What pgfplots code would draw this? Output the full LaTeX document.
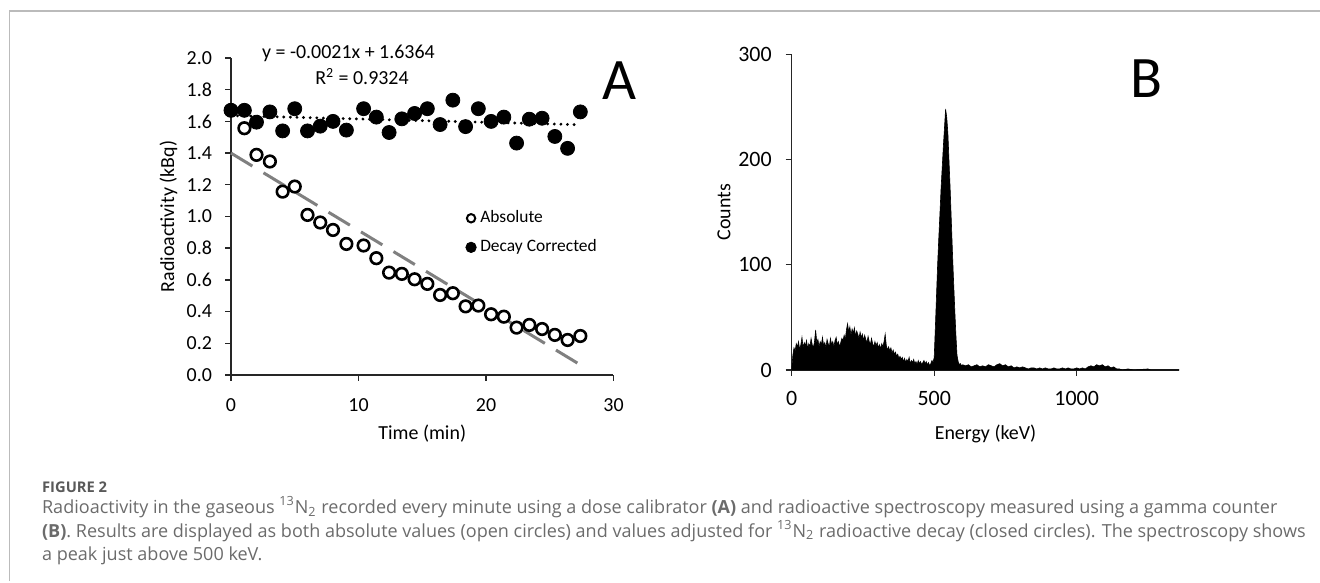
\documentclass[border=0pt]{standalone}
\usepackage{fontspec}
\setmainfont{Carlito}
\newfontfamily\capfont{Open Sans}
\usepackage{pgfplots}
\pgfplotsset{compat=1.18}
\definecolor{trendgray}{HTML}{808080}
\definecolor{framegray}{HTML}{BBBBBB}
\definecolor{capgray}{HTML}{6B6B6B}
\definecolor{axisblack}{HTML}{262626}

\pgfplotsset{excelax/.style={
  scale only axis, anchor=south west,
  axis x line=bottom, axis y line=left,
  axis line style={-, draw=axisblack, line width=0.7bp},
  tick style={draw=axisblack, line width=0.7bp},
  tick align=outside, major tick length=3bp,
  /pgf/number format/assume math mode=true,
  /pgf/number format/1000 sep={},
  clip=false,
}}

\begin{document}
\begin{tikzpicture}
\path[use as bounding box] (0,0) rectangle (660bp,291.5bp);
% page frame
\draw[framegray, line width=0.8bp] (4.65bp,1bp) -- (4.65bp,286bp) -- (660bp,286bp);

% ---------- panel A ----------
\begin{axis}[excelax,
  at={(115.5bp,104bp)}, width=191.25bp, height=158.5bp,
  xmin=0, xmax=30, ymin=0, ymax=2,
  xtick={0,10,20,30},
  ytick={0,0.2,0.4,0.6,0.8,1.0,1.2,1.4,1.6,1.8,2.0},
  yticklabel style={/pgf/number format/fixed, /pgf/number format/fixed zerofill,
    /pgf/number format/precision=1, xshift=-3bp},
  tick label style={font=\fontsize{10}{12}\selectfont},
  xticklabel style={yshift=-5.5bp},
  xlabel={Time (min)}, ylabel={Radioactivity (kBq)},
  label style={font=\fontsize{11.2}{13}\selectfont},
  every axis x label/.style={at={(axis description cs:0.5,-0.186)}, anchor=center},
  every axis y label/.style={at={(axis description cs:-0.1634,0.5)}, rotate=90, anchor=center},
  legend style={at={(axis description cs:0.613,0.4485)}, anchor=west, draw=none, fill=none,
    inner sep=0pt, row sep=5bp, font=\fontsize{8.75}{10}\selectfont,
    nodes={inner sep=1bp}, /tikz/every odd column/.style={column sep=1bp}},
  legend cell align=left,
  legend image code/.code={\draw[#1] plot coordinates {(0bp,0bp)};},
]
% linear trend of the absolute values
\addplot[forget plot, trendgray, line width=1.5bp, dash pattern=on 12.5bp off 6.5bp]
  coordinates {(0,1.40) (27.4,0.064)};
% trend of the decay corrected values, y = -0.0021x + 1.6364
\addplot[forget plot, black, line width=1.6bp, line cap=round, dash pattern=on 0bp off 3.3bp]
  coordinates {(0,1.6364) (27.4,1.5789)};
\addplot[forget plot, only marks, mark=*, mark size=2.9bp, black,
  mark options={fill=white, line width=1.3bp}]
  table[row sep=\\] {
x y \\
0 1.670 \\ 1.05 1.557 \\ 2.0 1.389 \\ 3.05 1.347 \\ 4.05 1.157 \\ 5.0 1.189 \\
6.0 1.010 \\ 7.0 0.962 \\ 8.0 0.915 \\ 9.05 0.827 \\ 10.4 0.817 \\ 11.4 0.737 \\
12.4 0.646 \\ 13.4 0.638 \\ 14.4 0.604 \\ 15.4 0.575 \\ 16.4 0.505 \\ 17.4 0.516 \\
18.4 0.433 \\ 19.4 0.438 \\ 20.4 0.383 \\ 21.4 0.368 \\ 22.4 0.299 \\ 23.4 0.316 \\
24.4 0.290 \\ 25.4 0.253 \\ 26.4 0.221 \\ 27.4 0.246 \\
};
\addplot[forget plot, only marks, mark=*, mark size=3.5bp, black]
  table[row sep=\\] {
x y \\
0 1.670 \\ 1.05 1.670 \\ 2.0 1.595 \\ 3.05 1.660 \\ 4.05 1.540 \\ 5.0 1.680 \\
6.0 1.540 \\ 7.0 1.570 \\ 8.0 1.600 \\ 9.05 1.545 \\ 10.4 1.680 \\ 11.4 1.627 \\
12.4 1.530 \\ 13.4 1.616 \\ 14.4 1.650 \\ 15.4 1.680 \\ 16.4 1.580 \\ 17.4 1.734 \\
18.4 1.567 \\ 19.4 1.680 \\ 20.4 1.600 \\ 21.4 1.627 \\ 22.4 1.463 \\ 23.4 1.614 \\
24.4 1.620 \\ 25.4 1.505 \\ 26.4 1.430 \\ 27.4 1.660 \\
};
\addlegendimage{only marks, mark=*, mark size=2.1bp, black, mark options={fill=white, line width=1bp}}
\addlegendentry{Absolute}
\addlegendimage{only marks, mark=*, mark size=2.6bp, black}
\addlegendentry{Decay Corrected}
\end{axis}

% ---------- panel B ----------
\begin{axis}[excelax,
  at={(395.85bp,106.5bp)}, width=193.8bp, height=157.85bp,
  xmin=0, xmax=1360, ymin=0, ymax=300,
  xtick={0,500,1000}, ytick={0,100,200,300},
  tick label style={font=\fontsize{11}{13}\selectfont},
  yticklabel style={xshift=-3.5bp},
  xticklabel style={yshift=-4bp},
  xlabel={Energy (keV)}, ylabel={Counts},
  label style={font=\fontsize{11.2}{13}\selectfont},
  every axis x label/.style={at={(axis description cs:0.5,-0.2027)}, anchor=center},
  every axis y label/.style={at={(axis description cs:-0.1746,0.5)}, rotate=90, anchor=center},
]
\addplot[fill=black, draw=black, line width=0.3bp] table[row sep=\\] {
x y \\
0 0 \\ 4 14 \\ 8 21 \\ 12 18 \\ 16 25 \\ 20 22 \\ 24 27 \\ 28 19 \\ 32 24 \\ 36 31 \\
40 21 \\ 44 26 \\ 48 23 \\ 52 28 \\ 56 20 \\ 60 25 \\ 64 22 \\ 68 30 \\ 72 24 \\ 76 21 \\
80 27 \\ 84 38 \\ 88 26 \\ 92 29 \\ 96 22 \\ 100 27 \\ 104 24 \\ 108 31 \\ 112 23 \\ 116 26 \\
120 21 \\ 124 29 \\ 128 25 \\ 132 22 \\ 136 30 \\ 140 24 \\ 144 27 \\ 148 22 \\ 152 28 \\ 156 31 \\
160 24 \\ 164 27 \\ 168 22 \\ 172 26 \\ 176 30 \\ 180 28 \\ 184 33 \\ 188 29 \\ 192 38 \\ 196 44 \\
200 36 \\ 204 41 \\ 208 33 \\ 212 39 \\ 216 35 \\ 220 40 \\ 224 32 \\ 228 37 \\ 232 34 \\ 236 30 \\
240 36 \\ 244 31 \\ 248 34 \\ 252 28 \\ 256 33 \\ 260 29 \\ 264 26 \\ 268 32 \\ 272 27 \\ 276 24 \\
280 30 \\ 284 25 \\ 288 22 \\ 292 27 \\ 296 23 \\ 300 26 \\ 304 21 \\ 308 24 \\ 312 20 \\ 316 25 \\
320 22 \\ 324 27 \\ 328 34 \\ 332 23 \\ 336 19 \\ 340 22 \\ 344 18 \\ 348 21 \\ 352 16 \\ 356 19 \\
360 15 \\ 364 17 \\ 368 13 \\ 372 15 \\ 376 11 \\ 380 13 \\ 384 10 \\ 388 12 \\ 392 8 \\ 396 11 \\
400 7 \\ 404 10 \\ 408 8 \\ 412 12 \\ 416 6 \\ 420 9 \\ 424 7 \\ 428 10 \\ 432 6 \\ 436 8 \\
440 5 \\ 444 9 \\ 448 6 \\ 452 8 \\ 456 5 \\ 460 7 \\ 464 9 \\ 468 6 \\ 472 8 \\ 476 5 \\
480 7 \\ 484 4 \\ 488 6 \\ 492 9 \\ 496 7 \\ 500 12 \\ 504 40 \\ 508 70 \\ 512 100 \\ 516 125 \\
520 148 \\ 524 172 \\ 528 192 \\ 532 212 \\ 536 230 \\ 540 248 \\ 544 240 \\ 548 225 \\ 552 198 \\ 556 172 \\
560 142 \\ 564 112 \\ 568 84 \\ 572 58 \\ 576 34 \\ 580 14 \\ 584 8 \\ 588 5 \\ 592 6 \\ 596 4 \\
600 5 \\ 610 4 \\ 620 5 \\ 630 3 \\ 640 4 \\ 650 5 \\ 660 3 \\ 670 4 \\ 680 3 \\ 690 5 \\
700 4 \\ 710 3 \\ 720 5 \\ 730 6 \\ 740 4 \\ 750 5 \\ 760 3 \\ 770 4 \\ 780 2 \\ 790 3 \\
800 2 \\ 810 3 \\ 820 2 \\ 830 1 \\ 840 2 \\ 850 2 \\ 860 1 \\ 870 2 \\ 880 1 \\ 890 2 \\
900 1 \\ 910 1 \\ 920 2 \\ 930 1 \\ 940 1 \\ 950 2 \\ 960 1 \\ 970 2 \\ 980 1 \\ 990 1 \\
1000 2 \\ 1010 1 \\ 1020 2 \\ 1030 1 \\ 1040 3 \\ 1050 4 \\ 1060 3 \\ 1070 5 \\ 1080 4 \\ 1090 5 \\
1100 3 \\ 1110 4 \\ 1120 2 \\ 1130 3 \\ 1140 1 \\ 1150 1 \\ 1160 0 \\ 1180 1 \\ 1200 0 \\ 1250 1 \\
1260 0 \\ 1360 0 \\
} \closedcycle;
\end{axis}

% annotations
\node[font=\fontsize{10}{12}\selectfont, anchor=center] at (174.2bp,264.7bp) {y = -0.0021x + 1.6364};
\node[font=\fontsize{10}{12}\selectfont, anchor=center] at (181bp,253.15bp) {R\textsuperscript{2} = 0.9324};
\node[font=\fontsize{29.5}{32}\selectfont, anchor=center, inner sep=0pt] at (309.5bp,251.15bp) {A};
\node[font=\fontsize{29.5}{32}\selectfont, anchor=center, inner sep=0pt] at (573bp,252bp) {B};

% caption
\begin{scope}[every node/.style={anchor=base west, inner sep=0pt, text=capgray,
    font=\capfont\fontsize{9.05}{11}\selectfont}]
\node at (20.85bp,45bp) {\fontsize{7.4}{9}\selectfont\bfseries\color{black!65} FIGURE 2};
\node at (20.85bp,34.75bp) {Radioactivity in the gaseous \textsuperscript{13}N\textsubscript{2} recorded every minute using a dose calibrator \textbf{(A)} and radioactive spectroscopy measured using a gamma counter};
\node at (20.85bp,23bp) {\textbf{(B)}. Results are displayed as both absolute values (open circles) and values adjusted for \textsuperscript{13}N\textsubscript{2} radioactive decay (closed circles). The spectroscopy shows};
\node at (20.85bp,11.2bp) {a peak just above 500 keV.};
\end{scope}
\end{tikzpicture}
\end{document}
